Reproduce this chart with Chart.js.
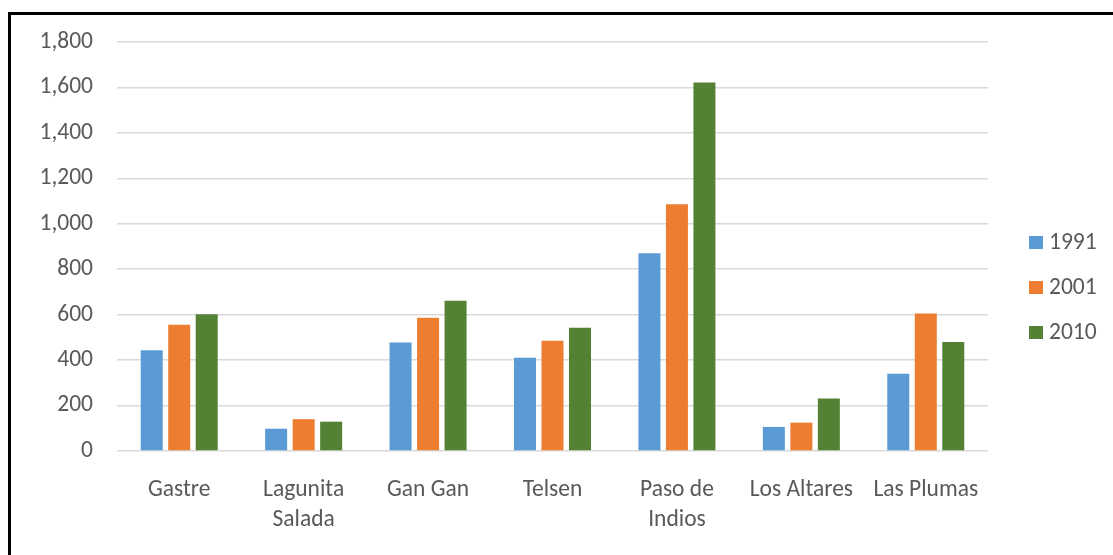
<!DOCTYPE html>
<html>
<head>
<meta charset="utf-8">
<script src="https://cdn.jsdelivr.net/npm/chart.js@4"></script>
<style>
  html, body { margin: 0; padding: 0; background: #fff; overflow: hidden; }
  #wrap { position: relative; width: 1113px; height: 555px; overflow: hidden; }
  #frame { position: absolute; left: 8px; top: 12px; width: 1200px; height: 600px; border: 3px solid #000; box-sizing: border-box; }
  canvas { position: absolute; left: 0; top: 0; }
</style>
</head>
<body>
<div id="wrap">
  <div id="frame"></div>
  <canvas id="grafico" width="1113" height="555"></canvas>
</div>
<script>
// categorias e séries
const localidades = ['Gastre', ['Lagunita', 'Salada'], 'Gan Gan', 'Telsen', ['Paso de', 'Indios'], 'Los Altares', 'Las Plumas'];
const anos = ['1991', '2001', '2010'];
const valores1991 = [443, 98, 477, 410, 870, 106, 340];
const valores2001 = [556, 140, 586, 485, 1086, 125, 605];
const valores2010 = [602, 129, 661, 542, 1622, 231, 480];
const cores = ['#5b9bd5', '#ed7d31', '#548235'];

const fonte = "Carlito, Calibri, 'Open Sans', sans-serif";
const corTexto = '#595959';

// legenda desenhada à direita, como no Excel
const legendaDireita = {
    id: 'legendaDireita',
    afterDraw(chart) {
        const ctx = chart.ctx;
        ctx.save();
        ctx.font = '23.5px ' + fonte;
        ctx.textBaseline = 'middle';
        chart.data.datasets.forEach((ds, i) => {
            const y = 243 + i * 45;
            ctx.fillStyle = ds.backgroundColor;
            ctx.fillRect(1029, y - 7, 14, 13);
            ctx.fillStyle = corTexto;
            ctx.fillText(ds.label, 1049, y);
        });
        ctx.restore();
    }
};

const dadosGrafico = {
    labels: localidades,
    datasets: [valores1991, valores2001, valores2010].map((v, i) => ({
        label: anos[i],
        data: v,
        backgroundColor: cores[i],
        barPercentage: 0.8,
        categoryPercentage: 0.663
    }))
};

const ctx = document.getElementById('grafico').getContext('2d');

new Chart(ctx, {
    type: 'bar',
    data: dadosGrafico,
    options: {
        responsive: false,
        animation: false,
        layout: { padding: { top: 42, right: 125, left: 0, bottom: 0 } },
        scales: {
            y: {
                min: 0,
                max: 1800,
                ticks: {
                    stepSize: 200,
                    padding: 24,
                    color: corTexto,
                    font: { family: fonte, size: 23.5 },
                    callback: v => v.toLocaleString('en-US')
                },
                grid: { color: '#d9d9d9', lineWidth: 1.5, drawTicks: false },
                border: { display: false },
                afterFit: s => { s.width = 117; }
            },
            x: {
                ticks: {
                    padding: 24,
                    color: corTexto,
                    maxRotation: 0,
                    autoSkip: false,
                    font: { family: fonte, size: 23.5, lineHeight: 1.27 }
                },
                grid: { display: false, drawTicks: false },
                border: { display: false },
                afterFit: s => { s.height = 104; }
            }
        },
        plugins: {
            legend: { display: false },
            tooltip: { enabled: false }
        }
    },
    plugins: [legendaDireita]
});
</script>
</body>
</html>
